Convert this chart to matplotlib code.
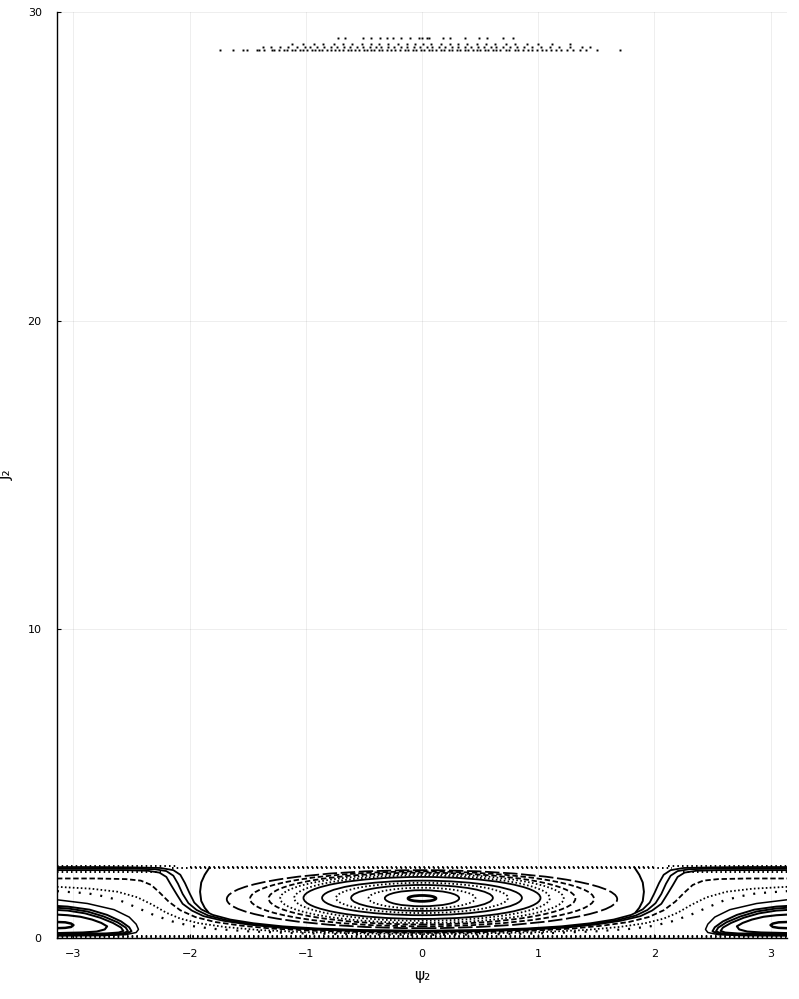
import numpy as np
import matplotlib
matplotlib.use("Agg")
import matplotlib.pyplot as plt
from matplotlib.patches import Ellipse

PI = np.pi

# ---------------- data ----------------
# high band of scattered section points (psi values per row, J per row)
top_rowA_psi = [-1.74,-1.63,-1.54,-1.51,-1.42,-1.40,-1.36,-1.29,-1.27,-1.23,-1.19,-1.16,-1.12,-1.09,-1.05,-1.02,
                -0.99,-0.95,-0.92,-0.89,-0.86,-0.82,-0.78,-0.75,-0.71,-0.68,-0.64,-0.61,-0.58,-0.54,-0.50,-0.47,
                -0.44,-0.41,-0.37,-0.34,-0.30,-0.27,-0.23,-0.19,-0.15,-0.12,-0.08,-0.05,-0.01,0.02,0.06,0.09,0.12,
                0.16,0.19,0.23,0.26,0.30,0.33,0.37,0.40,0.44,0.47,0.50,0.54,0.57,0.61,0.64,0.67,0.72,0.75,0.80,
                0.83,0.87,0.91,0.95,0.99,1.03,1.07,1.11,1.15,1.20,1.25,1.30,1.36,1.41,1.51,1.70]
top_rowB_psi = [-1.37,-1.30,-1.22,-1.15,-1.08,-1.01,-0.96,-0.90,-0.84,-0.78,-0.73,-0.67,-0.62,-0.56,-0.51,-0.45,
                -0.40,-0.35,-0.29,-0.24,-0.18,-0.13,-0.07,-0.02,0.04,0.09,0.15,0.20,0.26,0.31,0.37,0.42,0.48,0.53,
                0.59,0.64,0.70,0.76,0.82,0.88,0.95,1.02,1.10,1.18,1.27,1.38,1.45]
top_rowC_psi = [-1.12,-1.02,-0.93,-0.85,-0.76,-0.68,-0.60,-0.52,-0.44,-0.37,-0.29,-0.21,-0.13,-0.06,0.01,0.08,
                0.16,0.24,0.31,0.39,0.47,0.55,0.63,0.72,0.80,0.90,1.00,1.12,1.27]
top_rowD_psi = [-0.72,-0.66,-0.51,-0.44,-0.36,-0.30,-0.25,-0.18,-0.10,-0.03,0.00,0.04,0.06,0.18,0.24,0.37,0.49,
                0.56,0.70,0.78]
top_rows_J = [28.76, 28.86, 28.97, 29.17]

# central island rings (psi = 0): half width in psi, top and bottom J
ring_halfwidth = [0.12, 0.32, 0.46, 0.61, 0.74, 0.86, 1.02, 1.10, 1.22, 1.32, 1.48, 1.68]
ring_top = [1.38, 1.55, 1.63, 1.72, 1.79, 1.86, 1.98, 2.03, 2.08, 2.12, 2.16, 2.20]
ring_bottom = [1.19, 1.03, 0.95, 0.88, 0.81, 0.74, 0.62, 0.56, 0.49, 0.44, 0.38, 0.32]
ring_kind = ["thick", "solid", "dot", "solid", "dot", "solid", "solid", "dot", "dot", "dash", "dash", "longdash"]

# island around psi = +-pi (right half, mirrored to the left)
pi_island = {
    "P1": ([3.1416, 3.07, 3.02, 3.00, 3.02, 3.07, 3.1416],
           [0.52, 0.51, 0.47, 0.42, 0.36, 0.33, 0.32]),
    "P2": ([3.1416, 3.05, 2.94, 2.84, 2.76, 2.71, 2.73, 2.80, 2.92, 3.05, 3.1416],
           [0.76, 0.74, 0.69, 0.60, 0.49, 0.38, 0.28, 0.21, 0.18, 0.17, 0.16]),
    "P3a": ([3.1416, 3.05, 2.88, 2.74, 2.62, 2.55, 2.53, 2.57, 2.68, 2.85, 3.1416],
            [0.98, 0.96, 0.86, 0.70, 0.51, 0.34, 0.22, 0.16, 0.13, 0.12, 0.12]),
    "P3b": ([3.1416, 3.05, 2.90, 2.77, 2.66, 2.59, 2.57, 2.61, 2.72, 2.88, 3.1416],
            [0.91, 0.89, 0.80, 0.66, 0.49, 0.34, 0.23, 0.18, 0.15, 0.14, 0.14]),
    "P3c": ([3.1416, 3.05, 2.86, 2.71, 2.59, 2.52, 2.50, 2.54, 2.65, 2.82, 3.1416],
            [1.04, 1.02, 0.92, 0.75, 0.54, 0.35, 0.22, 0.15, 0.11, 0.10, 0.10]),
    "P4": ([3.1416, 2.88, 2.65, 2.52, 2.46, 2.44, 2.46, 2.55, 2.75, 3.1416],
           [1.24, 1.12, 0.92, 0.68, 0.45, 0.28, 0.18, 0.11, 0.08, 0.07]),
}
pi_island_lw = {"P1": 1.8, "P2": 1.5, "P3a": 1.4, "P3b": 1.4, "P3c": 1.4, "P4": 1.1}

# orbits passing under the central island (right half, mirrored)
u_orbits = {
    "U1": ([0.0, 0.5, 0.9, 1.2, 1.45, 1.65, 1.8, 1.9, 1.96, 2.0, 2.04, 2.08, 2.14, 2.25, 2.5, 2.8, 3.1416],
           [0.24, 0.26, 0.31, 0.38, 0.48, 0.60, 0.75, 0.93, 1.15, 1.45, 1.78, 2.05, 2.20, 2.27, 2.29, 2.30, 2.30]),
    "U2": ([0.0, 0.5, 0.9, 1.22, 1.48, 1.68, 1.84, 1.94, 2.01, 2.06, 2.10, 2.14, 2.20, 2.30, 2.5, 2.8, 3.1416],
           [0.22, 0.24, 0.29, 0.36, 0.46, 0.58, 0.73, 0.91, 1.13, 1.43, 1.76, 2.02, 2.17, 2.23, 2.25, 2.25, 2.25]),
    "U3": ([0.0, 0.5, 0.9, 1.24, 1.50, 1.71, 1.88, 1.98, 2.06, 2.11, 2.16, 2.20, 2.26, 2.36, 2.55, 2.8, 3.1416],
           [0.20, 0.22, 0.27, 0.34, 0.44, 0.56, 0.71, 0.89, 1.11, 1.41, 1.72, 1.98, 2.12, 2.18, 2.20, 2.20, 2.20]),
    "U4": ([0.0, 0.5, 0.95, 1.3, 1.55, 1.78, 1.95, 2.08, 2.18, 2.26, 2.33, 2.42, 2.55, 2.8, 3.1416],
           [0.17, 0.19, 0.24, 0.31, 0.40, 0.52, 0.68, 0.90, 1.18, 1.48, 1.72, 1.86, 1.91, 1.93, 1.93]),
    "U5": ([0.0, 0.5, 1.0, 1.4, 1.7, 1.92, 2.08, 2.2, 2.32, 2.45, 2.62, 2.85, 3.1416],
           [0.13, 0.15, 0.19, 0.26, 0.36, 0.48, 0.63, 0.82, 1.08, 1.32, 1.50, 1.60, 1.66]),
    "U6": ([0.0, 0.6, 1.1, 1.5, 1.8, 2.0, 2.15, 2.31, 2.45, 2.6, 2.75, 2.88, 3.1416],
           [0.10, 0.12, 0.16, 0.22, 0.30, 0.40, 0.54, 0.75, 0.98, 1.22, 1.36, 1.45, 1.52]),
}
u_kind = {"U1": "solid", "U2": "solid", "U3": "solid", "U4": "dash", "U5": "dot", "U6": "sparse"}

# open arc just outside the central island (right half, mirrored)
arc_psi = [1.83, 1.87, 1.90, 1.91, 1.90, 1.87, 1.84]
arc_J = [2.28, 2.05, 1.80, 1.50, 1.20, 0.98, 0.84]

# chaotic layers drawn as dotted rows: (psi_start, psi_end, J)
band_rows = [(-3.1416, 3.1416, 0.035), (-3.1416, 3.1416, 0.075),
             (-2.15, 2.15, 2.26), (-2.0, 2.0, 2.31),
             (2.12, 3.1416, 2.34), (2.25, 3.1416, 2.14),
             (-3.1416, -2.12, 2.34), (-3.1416, -2.25, 2.14)]

x_ticks = [-3, -2, -1, 0, 1, 2, 3]
y_ticks = [0, 10, 20, 30]

# ---------------- figure ----------------
fig = plt.figure(figsize=(7.99, 9.99), dpi=100)
ax = fig.add_axes([0.0713, 0.061, 0.9137, 0.927])

K = "black"
styles = {
    "solid": dict(ls="-", lw=1.3),
    "thick": dict(ls="-", lw=2.0),
    "dot": dict(ls=(0, (0.9, 1.3)), lw=1.3),
    "dash": dict(ls=(0, (3, 1.5)), lw=1.3),
    "longdash": dict(ls=(0, (8, 2)), lw=1.3),
    "sparse": dict(ls=(0, (0.9, 4)), lw=1.6),
}

# central island rings
for w, t, b, k in zip(ring_halfwidth, ring_top, ring_bottom, ring_kind):
    st = styles[k]
    e = Ellipse((0.0, (t + b) / 2), 2 * w, t - b, fill=False, edgecolor=K,
                linestyle=st["ls"], linewidth=st["lw"])
    ax.add_patch(e)

# pi islands (both sides)
for name, (ps, js) in pi_island.items():
    ps = np.array(ps)
    for sgn in (1, -1):
        ax.plot(sgn * ps, js, color=K, lw=pi_island_lw[name], solid_capstyle="round")

# orbits under the central island
for name, (ps, js) in u_orbits.items():
    ps = np.array(ps)
    full_psi = np.concatenate([-ps[::-1], ps[1:]])
    full_J = np.concatenate([np.array(js)[::-1], np.array(js)[1:]])
    st = styles[u_kind[name]]
    ax.plot(full_psi, full_J, color=K, ls=st["ls"], lw=st["lw"])

# arcs
for sgn in (1, -1):
    ax.plot(sgn * np.array(arc_psi), arc_J, color=K, lw=1.4)

# chaotic layers
for p0, p1, jj in band_rows:
    ax.plot([p0, p1], [jj, jj], color=K, ls=(0, (0.8, 1.6)), lw=1.4)

# high band points
for row, jj in zip([top_rowA_psi, top_rowB_psi, top_rowC_psi, top_rowD_psi], top_rows_J):
    ax.plot(row, [jj] * len(row), ls="none", marker="s", ms=1.4, color=K, mew=0)

# ---------------- axes styling ----------------
ax.set_xlim(-PI, PI)
ax.set_ylim(0, 30)
ax.set_xticks(x_ticks)
ax.set_yticks(y_ticks)
ax.set_xticklabels([f"{v}".replace("-", "\u2212") for v in x_ticks])
ax.set_yticklabels([str(v) for v in y_ticks])
ax.tick_params(direction="in", length=3, width=0.8, labelsize=8, colors="black")
ax.tick_params(axis="x", pad=8)
ax.tick_params(axis="y", pad=11)
ax.grid(True, color="black", alpha=0.08, lw=0.6)
ax.set_axisbelow(True)
for s in ("top", "right"):
    ax.spines[s].set_visible(False)
for s in ("left", "bottom"):
    ax.spines[s].set_linewidth(1.0)
ax.set_xlabel("\u03c8\u2082", fontsize=11, labelpad=6)
ax.set_ylabel("J\u2082", fontsize=11, labelpad=10)

fig.savefig("out.png", dpi=100)
